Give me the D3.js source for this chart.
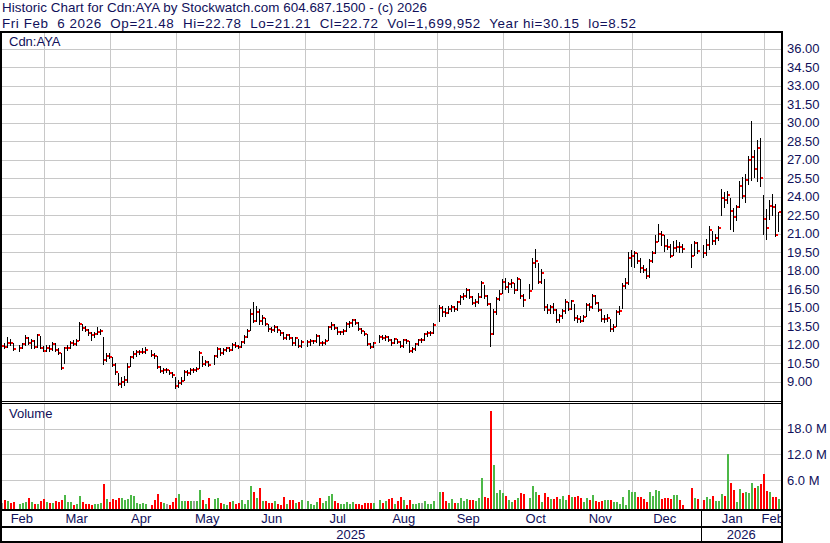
<!DOCTYPE html>
<html lang="en">
<head>
<meta charset="UTF-8">
<title>Historic Chart for Cdn:AYA</title>
<script src="https://d3js.org/d3.v7.min.js"></script>
<style>
    body { margin: 0; background: #fff; }
    svg text { font-family: "Liberation Sans", Arial, sans-serif; fill: #10105a; }
</style>
</head>
<body>
<script>

    // one slot per weekday from Feb 7 2025 to Feb 6 2026, null = market closed
    var firstDay = "2025-02-07";

    var closes = [
        11.92, 11.92, 11.84, 12.17, 12.11, 11.65, null, 11.73, 12.03, 12.57,
        12.17, 12.33, 11.84, 12.76, 11.76, 11.52, 11.73, 11.65, 12.08, 11.57,
        11.30, 10.11, 11.73, 11.76, 12.17, 12.08, 12.33, 13.65, 13.33, 13.20,
        12.92, 12.80, 12.89, 13.03, 13.10, 10.76, 11.08, 11.00, 10.38, 9.81,
        8.81, 9.00, 9.14, 10.22, 10.98, 11.25, 11.38, 11.41, 11.44, 11.60,
        null, 11.20, 11.11, 10.22, 9.87, 9.95, 9.95, 9.68, 9.54, 8.65,
        8.92, 9.08, 9.81, 9.70, 9.95, 9.95, 10.03, 11.30, 10.43, 10.60,
        10.35, null, 11.08, 11.68, 11.30, 11.57, 11.70, 11.60, 11.97, 11.90,
        11.84, 12.20, 12.65, 13.11, 14.46, 13.95, 14.68, 13.90, 14.20, 13.70,
        13.24, 13.19, 13.46, 13.16, 12.92, 12.57, 12.78, 12.57, 12.11, 12.51,
        11.92, 12.22, null, 12.24, 12.30, 12.32, 12.70, 12.11, 12.15, 12.32,
        13.43, 13.62, 13.38, 13.00, 13.03, 13.11, 13.68, 13.78, 14.00, 13.76,
        13.27, 13.08, 12.86, 12.08, 11.84, 12.11, null, 12.65, 12.57, 12.62,
        12.38, 12.11, 12.43, 12.24, 11.89, 12.38, 12.30, 11.49, 11.68, 12.03,
        12.38, 12.38, 12.86, 12.92, 12.97, 13.59, null, 15.00, 14.62, 14.59,
        14.89, 15.03, 14.86, 15.43, 15.89, 15.97, 16.43, 15.89, 15.41, 15.45,
        15.89, 17.03, 15.95, 15.30, 12.86, 14.68, 15.68, 16.13, 17.11, 16.70,
        16.89, 16.97, 16.43, 17.30, 15.95, 15.62, null, 16.38, 18.65, 18.81,
        17.11, 17.84, 15.08, 14.81, 15.03, 14.81, 14.00, 14.32, 14.73, 15.49,
        14.92, 15.51, 14.16, 14.11, 13.95, 14.24, 15.24, 15.08, 15.97, 15.41,
        14.81, 14.05, 14.10, 14.19, 13.24, 13.46, 14.65, 14.77, 16.77, 17.04,
        19.04, 19.23, 19.47, 18.82, 18.20, 18.07, 17.53, 18.82, 19.47, 20.36,
        21.01, 20.93, 20.04, 19.93, 19.23, 19.85, 19.96, 19.94, 19.76, null,
        null, 19.22, 20.27, 19.60, null, 19.46, 20.08, 21.30, 20.43, 20.67,
        21.43, 23.92, 23.73, 24.13, 22.86, 22.38, 23.19, 24.86, 24.05, 25.35,
        26.97, 27.24, 26.24, 27.97, 25.54, 22.16, 21.49, 23.27, 23.13, 20.89, 22.72
    ];

    var highs = [
        12.30, 12.90, 12.10, 12.60, 12.45, 12.10, null, 11.95, 12.15, 12.75,
        12.60, 12.50, 12.40, 12.85, 12.70, 11.90, 12.00, 11.95, 12.20, 12.10,
        11.70, 11.35, 11.80, 11.95, 12.30, 12.35, 12.50, 13.80, 13.70, 13.50,
        13.30, 13.05, 13.00, 13.40, 13.25, 12.60, 11.30, 11.35, 11.00, 10.50,
        9.70, 9.40, 9.50, 10.50, 11.10, 11.50, 11.60, 11.60, 11.70, 11.85,
        null, 11.60, 11.30, 11.05, 10.30, 10.15, 10.10, 9.95, 9.80, 9.40,
        9.10, 9.40, 9.95, 9.95, 10.10, 10.15, 10.20, 11.45, 11.10, 10.80,
        10.65, null, 11.20, 11.80, 11.70, 11.70, 11.85, 11.80, 12.10, 12.20,
        12.00, 12.30, 12.75, 13.25, 14.90, 15.50, 15.10, 14.90, 14.40, 14.20,
        13.70, 13.40, 13.60, 13.50, 13.20, 13.00, 12.90, 12.85, 12.60, 12.60,
        12.45, 12.35, null, 12.35, 12.45, 12.40, 12.90, 12.75, 12.30, 12.50,
        13.50, 13.85, 13.70, 13.45, 13.15, 13.25, 13.80, 13.90, 14.10, 14.05,
        13.80, 13.35, 13.10, 12.90, 12.15, 12.25, null, 12.80, 12.80, 12.75,
        12.70, 12.45, 12.55, 12.50, 12.30, 12.45, 12.45, 12.30, 11.80, 12.15,
        12.50, 12.55, 12.95, 13.10, 13.15, 13.75, null, 15.20, 15.10, 14.95,
        15.10, 15.20, 15.10, 15.55, 16.00, 16.20, 16.60, 16.50, 15.95, 15.70,
        16.20, 17.20, 16.80, 16.00, 15.35, 14.90, 15.90, 16.40, 17.30, 17.40,
        17.10, 17.30, 17.00, 17.50, 17.30, 16.10, null, 16.90, 19.00, 19.73,
        18.60, 18.10, 17.30, 15.30, 15.20, 15.35, 14.90, 14.50, 14.90, 15.70,
        15.50, 15.65, 15.30, 14.40, 14.30, 14.40, 15.40, 15.40, 16.10, 16.00,
        15.50, 14.90, 14.40, 14.50, 14.10, 13.70, 14.80, 15.10, 17.00, 17.40,
        19.55, 19.70, 19.60, 19.40, 19.00, 18.50, 18.20, 18.95, 19.60, 20.90,
        21.80, 21.20, 20.90, 20.60, 20.20, 20.40, 20.50, 20.30, 20.20, null,
        null, 20.20, 20.40, 20.30, null, 20.10, 20.60, 21.60, 21.20, 21.00,
        21.60, 24.60, 24.40, 24.50, 23.90, 23.10, 23.30, 25.30, 25.60, 25.80,
        27.30, 30.15, 27.80, 28.60, 28.80, 24.10, 23.00, 23.70, 24.20, 23.40, 22.78
    ];

    var lows = [
        11.70, 11.70, 11.70, 11.80, 11.95, 11.55, null, 11.50, 11.70, 12.00,
        12.05, 11.75, 11.75, 11.85, 11.70, 11.45, 11.45, 11.50, 11.60, 11.50,
        11.25, 10.05, 10.50, 11.55, 11.70, 11.95, 12.00, 12.40, 13.20, 13.10,
        12.80, 12.40, 12.60, 12.85, 12.90, 10.40, 10.70, 10.90, 10.30, 9.60,
        8.70, 8.60, 8.75, 9.00, 10.30, 10.90, 11.10, 11.25, 11.30, 11.35,
        null, 11.10, 10.90, 10.10, 9.75, 9.70, 9.75, 9.60, 9.40, 8.52,
        8.60, 8.85, 9.10, 9.55, 9.60, 9.80, 9.85, 10.10, 10.30, 10.35,
        10.25, null, 10.40, 11.00, 11.20, 11.25, 11.50, 11.45, 11.60, 11.80,
        11.70, 11.85, 12.10, 12.60, 13.20, 13.80, 13.90, 13.70, 13.70, 13.60,
        13.10, 13.00, 13.10, 13.05, 12.80, 12.50, 12.45, 12.45, 11.95, 12.00,
        11.85, 11.85, null, 11.90, 12.00, 12.10, 12.20, 12.00, 11.95, 12.05,
        12.40, 13.30, 13.25, 12.90, 12.85, 12.90, 13.10, 13.45, 13.55, 13.65,
        13.20, 12.95, 12.75, 11.95, 11.75, 11.80, null, 12.20, 12.45, 12.40,
        12.30, 12.00, 12.10, 12.15, 11.80, 11.85, 12.15, 11.40, 11.40, 11.60,
        11.95, 12.20, 12.35, 12.70, 12.80, 12.95, null, 13.90, 14.30, 14.35,
        14.60, 14.70, 14.70, 14.80, 15.30, 15.70, 15.90, 15.80, 15.30, 15.10,
        15.40, 15.90, 15.80, 15.20, 11.90, 12.90, 14.50, 15.60, 16.20, 16.50,
        16.30, 16.70, 16.20, 16.40, 15.80, 15.10, null, 15.80, 16.50, 18.30,
        17.00, 17.00, 14.80, 14.60, 14.60, 14.60, 13.80, 13.85, 14.20, 14.60,
        14.80, 14.90, 14.00, 13.80, 13.80, 13.90, 14.30, 14.80, 15.00, 15.30,
        14.70, 13.90, 13.80, 13.90, 13.10, 13.10, 13.50, 14.50, 15.00, 16.60,
        16.90, 18.40, 18.30, 18.60, 17.90, 17.90, 17.40, 17.50, 18.70, 19.40,
        20.40, 20.10, 19.60, 19.80, 19.10, 19.30, 19.60, 19.50, 19.55, null,
        null, 18.30, 19.30, 19.40, null, 19.10, 19.30, 19.80, 20.20, 20.20,
        20.50, 22.50, 23.20, 23.50, 21.40, 21.20, 22.10, 23.20, 23.90, 23.60,
        25.00, 25.35, 25.60, 25.30, 24.90, 21.00, 20.60, 22.20, 22.50, 20.80, 21.21
    ];

    // millions of shares
    var volumes = [
        1.20, 0.70, 1.47, 1.09, 0.70, 0.93, null, 0.47, 0.70, 0.93,
        1.86, 0.93, 0.47, 0.47, 1.09, 1.63, 0.93, 0.70, 0.78, 1.09,
        0.93, 1.40, 2.56, 0.85, 0.93, 0.31, 0.47, 2.33, 0.93, 0.47,
        0.47, 0.31, 0.47, 0.47, 0.70, 5.10, 1.63, 0.93, 1.63, 1.47,
        1.86, 1.86, 1.47, 1.70, 2.48, 2.40, 0.70, 0.54, 0.70, 0.47,
        null, 0.23, 1.47, 2.79, 0.93, 0.70, 0.47, 0.31, 0.93, 1.86,
        2.79, 1.24, 1.24, 1.24, 1.09, 1.24, 1.09, 3.80, 1.47, 0.47,
        1.86, null, 1.70, 1.86, 0.70, 0.47, 0.31, 0.93, 1.24, 0.47,
        0.70, 1.47, 0.47, 1.47, 4.65, 3.26, 1.86, 4.19, 1.24, 1.09,
        0.62, 0.62, 1.09, 0.47, 0.20, 2.10, 0.47, 1.40, 1.40, 0.70,
        1.00, 1.40, null, 1.24, 0.47, 0.20, 0.93, 1.94, 0.78, 1.16,
        2.40, 2.80, 1.16, 0.70, 0.47, 0.47, 0.93, 0.47, 0.93, 0.47,
        0.47, 0.31, 0.70, 0.70, 0.70, 0.70, null, 1.40, 0.70, 1.24,
        1.70, 1.86, 0.47, 1.09, 2.10, 1.47, 0.31, 1.40, 0.47, 0.47,
        0.62, 0.70, 1.16, 0.47, 0.47, 1.16, null, 3.26, 3.26, 1.16,
        0.78, 1.55, 0.78, 0.78, 1.86, 1.24, 1.63, 1.47, 1.40, 1.16,
        1.86, 6.50, 2.10, 1.80, 22.2, 9.50, 3.00, 3.70, 3.00, 2.30,
        1.40, 1.00, 1.40, 1.86, 3.00, 2.80, null, 1.86, 4.65, 3.26,
        2.56, 0.93, 2.95, 2.10, 1.63, 1.63, 2.00, 1.63, 2.30, 1.47,
        2.56, 2.10, 2.10, 2.30, 1.86, 0.93, 1.86, 1.40, 2.56, 1.16,
        0.93, 1.16, 1.40, 1.40, 1.40, 0.93, 0.93, 0.47, 2.17, 0.31,
        3.70, 3.26, 3.26, 2.10, 2.10, 1.63, 0.93, 3.26, 2.30, 3.70,
        3.50, 1.63, 1.86, 1.86, 1.63, 2.56, 2.56, 1.40, 0.20, null,
        null, 4.20, 1.86, 1.63, null, 1.40, 2.10, 1.63, 2.30, 1.16,
        1.16, 2.80, 2.25, 12.1, 5.35, 3.80, 0.93, 4.00, 3.00, 3.20,
        3.00, 5.35, 4.20, 4.60, 5.20, 7.40, 3.40, 3.26, 2.10, 2.10, 1.70
    ];

    var priceTicks = [9, 10.5, 12, 13.5, 15, 16.5, 18, 19.5, 21, 22.5, 24, 25.5, 27, 28.5, 30, 31.5, 33, 34.5, 36];
    var volumeTicks = [6, 12, 18];

    var headerLines = [
        "Historic Chart for Cdn:AYA by Stockwatch.com 604.687.1500 - (c) 2026",
        "Fri Feb  6 2026  Op=21.48  Hi=22.78  Lo=21.21  Cl=22.72  Vol=1,699,952  Year hi=30.15  lo=8.52"
    ];

    var width = 830;
    var height = 543;
    var plotRight = 781;
    var priceTop = 33, priceBottom = 401;
    var volTop = 403, volBottom = 509;

    var svg = d3.select("body")
        .append("svg")
        .attr("width", width)
        .attr("height", height);

    // weekday slots
    var slotDates = [];
    var day = d3.utcParse("%Y-%m-%d")(firstDay);
    while (slotDates.length < closes.length) {
        var wd = day.getUTCDay();
        if (wd !== 0 && wd !== 6) slotDates.push(day);
        day = d3.utcDay.offset(day, 1);
    }

    var x = d3.scaleLinear().domain([0, closes.length - 1]).range([-1.3, 778.7]);
    var yPrice = d3.scaleLinear().domain([9, 36]).range([381.7, 48.7]);
    var yVol = d3.scaleLinear().domain([0, 18]).range([506, 428.6]);

    var px = function (i) { return Math.floor(x(i)); };
    var crisp = function (v) { return Math.round(v) + 0.5; };

    // months
    var months = d3.groups(slotDates.map(function (d, i) { return {d: d, i: i}; }),
        function (o) { return d3.utcFormat("%Y-%m")(o.d); })
        .map(function (g) {
            var items = g[1];
            var first = items[0].i;
            var idx = items[0].d.getUTCDate() === 1 ? first : first - 1;
            return {
                label: d3.utcFormat("%b")(items[0].d),
                year: items[0].d.getUTCFullYear(),
                first: first,
                last: items[items.length - 1].i,
                line: Math.floor(x(idx) + 0.6) + 0.5
            };
        });

    var defs = svg.append("defs");
    defs.append("clipPath").attr("id", "clipPrice")
        .append("rect").attr("x", 2).attr("y", priceTop).attr("width", plotRight - 2).attr("height", priceBottom - priceTop);
    defs.append("clipPath").attr("id", "clipVol")
        .append("rect").attr("x", 2).attr("y", volTop + 1).attr("width", plotRight - 2).attr("height", volBottom - volTop - 1);
    defs.append("clipPath").attr("id", "clipRows")
        .append("rect").attr("x", 2).attr("y", 511).attr("width", plotRight - 2).attr("height", 30);

    // header
    var headerWidths = [425, 634];
    svg.selectAll(".header")
        .data(headerLines)
        .enter()
        .append("text")
        .attr("class", "header")
        .attr("x", 2)
        .attr("y", function (d, i) { return 12 + i * 15.6; })
        .attr("textLength", function (d, i) { return headerWidths[i]; })
        .attr("lengthAdjust", "spacing")
        .style("font-size", "13.4px")
        .style("white-space", "pre")
        .text(function (d) { return d; });

    // grid
    var grid = svg.append("g").attr("stroke", "#c8c8c8").attr("stroke-width", 1);

    grid.selectAll(".hp")
        .data(priceTicks)
        .enter().append("line")
        .attr("x1", 2).attr("x2", plotRight)
        .attr("y1", function (d) { return crisp(yPrice(d)); })
        .attr("y2", function (d) { return crisp(yPrice(d)); });

    grid.selectAll(".hv")
        .data(volumeTicks)
        .enter().append("line")
        .attr("x1", 2).attr("x2", plotRight)
        .attr("y1", function (d) { return crisp(yVol(d)); })
        .attr("y2", function (d) { return crisp(yVol(d)); });

    var monthLines = months.slice(1);
    [[priceTop, priceBottom], [volTop, volBottom]].forEach(function (r) {
        grid.selectAll(null)
            .data(monthLines)
            .enter().append("line")
            .attr("x1", function (d) { return d.line; })
            .attr("x2", function (d) { return d.line; })
            .attr("y1", r[0]).attr("y2", r[1]);
    });

    // price bars
    var slots = d3.range(closes.length).filter(function (i) { return closes[i] !== null; });

    var priceG = svg.append("g").attr("clip-path", "url(#clipPrice)");
    priceG.selectAll(".hl")
        .data(slots)
        .enter().append("line")
        .attr("x1", function (i) { return px(i) + 0.5; })
        .attr("x2", function (i) { return px(i) + 0.5; })
        .attr("y1", function (i) { return Math.round(yPrice(highs[i])); })
        .attr("y2", function (i) { return Math.round(yPrice(lows[i])) + 1; })
        .attr("stroke", "#000")
        .attr("stroke-width", 1);

    priceG.selectAll(".cl")
        .data(slots)
        .enter().append("rect")
        .attr("x", function (i) { return px(i) + 1; })
        .attr("y", function (i) { return Math.round(yPrice(closes[i])) - 1; })
        .attr("width", 2)
        .attr("height", 2)
        .attr("fill", "#ff0000");

    // volume bars, coloured by change from previous close
    var prevClose = {};
    var last = null;
    slots.forEach(function (i) { prevClose[i] = last === null ? closes[i] : last; last = closes[i]; });

    svg.append("g").attr("clip-path", "url(#clipVol)")
        .selectAll("rect")
        .data(slots)
        .enter().append("rect")
        .attr("x", function (i) { return px(i); })
        .attr("width", 2)
        .attr("y", function (i) { return Math.round(yVol(volumes[i])); })
        .attr("height", function (i) { return volBottom - Math.round(yVol(volumes[i])); })
        .attr("fill", function (i) {
            if (closes[i] > prevClose[i]) return "#4cb847";
            if (closes[i] < prevClose[i]) return "#ff0000";
            return "#a0a0a0";
        });

    // panel labels
    svg.append("text").attr("x", 9).attr("y", 46).style("font-size", "13px").text("Cdn:AYA");
    svg.append("text").attr("x", 9).attr("y", 418).style("font-size", "13px").text("Volume");

    // right axis labels
    svg.selectAll(".pl")
        .data(priceTicks)
        .enter().append("text")
        .attr("x", 787)
        .attr("y", function (d) { return yPrice(d) + 4.5; })
        .style("font-size", "13px")
        .text(function (d) { return d3.format(".2f")(d); });

    svg.selectAll(".vl")
        .data(volumeTicks)
        .enter().append("text")
        .attr("x", 787)
        .attr("y", function (d) { return yVol(d) + 4.5; })
        .style("font-size", "13px")
        .text(function (d) { return d3.format(".1f")(d) + " M"; });

    // month and year rows
    var rows = svg.append("g").attr("clip-path", "url(#clipRows)");
    rows.selectAll(".ml")
        .data(months)
        .enter().append("text")
        .attr("x", function (d) { return (Math.max(0, x(d.first)) + x(d.last)) / 2; })
        .attr("y", 523)
        .attr("text-anchor", "middle")
        .style("font-size", "13px")
        .text(function (d) { return d.label; });

    var yearBreaks = months.filter(function (d, i) { return i > 0 && d.year !== months[i - 1].year; });
    var edges = [0].concat(yearBreaks.map(function (d) { return d.line; })).concat([plotRight]);
    var years = d3.groups(months, function (d) { return d.year; }).map(function (g) { return g[0]; });

    rows.selectAll(".yl")
        .data(years)
        .enter().append("text")
        .attr("x", function (d, i) { return (edges[i] + edges[i + 1]) / 2; })
        .attr("y", 539)
        .attr("text-anchor", "middle")
        .style("font-size", "13px")
        .text(function (d) { return d; });

    svg.selectAll(".yb")
        .data(yearBreaks)
        .enter().append("line")
        .attr("x1", function (d) { return d.line; })
        .attr("x2", function (d) { return d.line; })
        .attr("y1", 511).attr("y2", 541)
        .attr("stroke", "#000");

    // frame
    var frame = svg.append("g").attr("stroke", "#000");
    [[32, 2], [401.5, 1], [403.5, 1], [510, 2], [527, 2], [542, 2]].forEach(function (h) {
        frame.append("line").attr("x1", 0).attr("x2", plotRight + 2)
            .attr("y1", h[0]).attr("y2", h[0]).attr("stroke-width", h[1]);
    });
    [1, plotRight + 1].forEach(function (v) {
        frame.append("line").attr("x1", v).attr("x2", v)
            .attr("y1", 31).attr("y2", height).attr("stroke-width", 2);
    });

</script>
</body>
</html>
